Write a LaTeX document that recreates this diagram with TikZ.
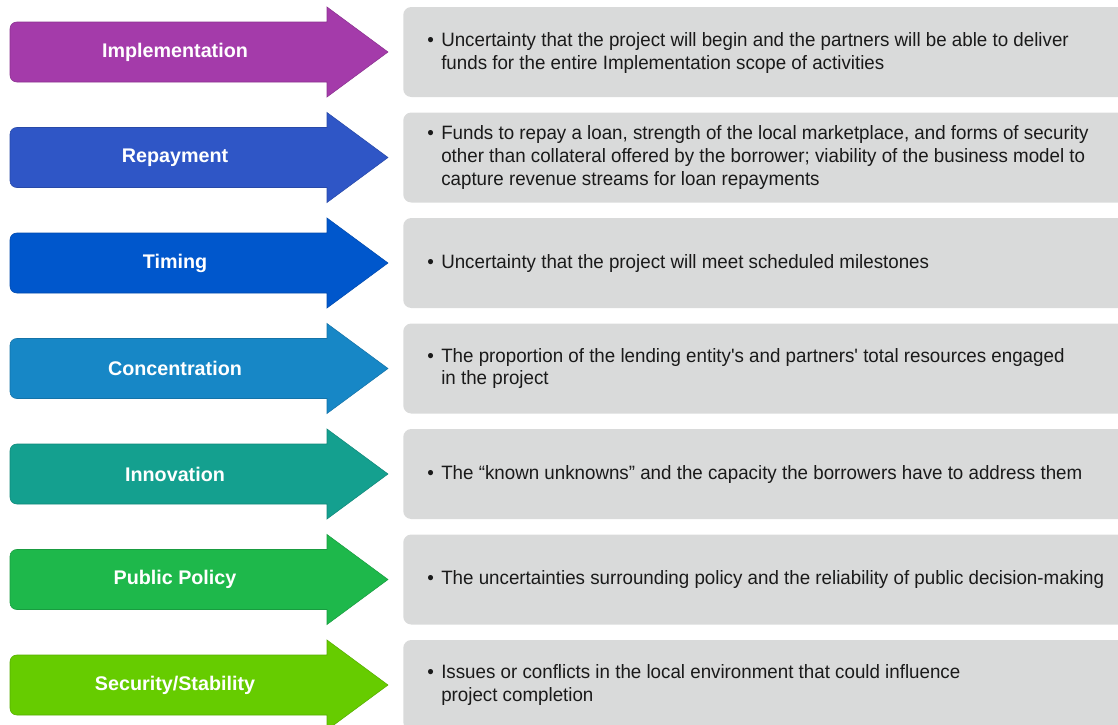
\documentclass[tikz,border=0pt]{standalone}
\usepackage{fontspec}
\setmainfont{Liberation Sans}
\newfontfamily\bodyfont[FakeStretch=0.97]{Liberation Sans}
\definecolor{cImpl}{HTML}{A43BAA}
\definecolor{cRepay}{HTML}{2F56C6}
\definecolor{cTime}{HTML}{0057CC}
\definecolor{cConc}{HTML}{1787C6}
\definecolor{cInno}{HTML}{14A08F}
\definecolor{cPol}{HTML}{1EB84B}
\definecolor{cSec}{HTML}{66CC00}
\definecolor{boxgray}{HTML}{D9DADA}
\definecolor{txtdark}{HTML}{1A1A1A}
\tikzset{
  arrowbody/.style={fill=#1, draw=#1!85!black, line width=0.4pt},
  graybox/.style={fill=boxgray, draw=none, rounded corners=6pt, minimum width=549pt, minimum height=67.5pt, anchor=west, inner sep=0pt},
  lab/.style={text=white, font=\fontsize{14.8pt}{17pt}\selectfont\bfseries, inner sep=0pt},
  txt/.style={text=txtdark, font=\bodyfont\fontsize{14.5pt}{17pt}\selectfont, align=left, anchor=west, inner sep=0pt}
}
\newcommand{\bul}{\makebox[10.5pt][l]{\textbullet}}
\newcommand{\ind}{\hspace*{10.5pt}}
\newcommand{\rowarrow}[4]{%
  \draw[arrowbody=#2] (327,#1-30) -- (327,#1-45) -- (388,#1) -- (327,#1+45) -- (327,#1+30)
     [rounded corners=5pt] -- (10,#1+30) -- (10,#1-30) -- (60,#1-30) [sharp corners] -- (327,#1-30) -- cycle;
  \node[lab] (l#4) at (175,#1) {#3};
  \node[graybox] (b#4) at (403,#1) {};
}
\begin{document}
\begin{tikzpicture}[x=0.75pt, y=-0.75pt]
\useasboundingbox (0,0) rectangle (1118,725);
\begin{scope}
\clip (0,0) rectangle (1118,725);
\rowarrow{52}{cImpl}{Implementation}{1}
\rowarrow{157.5}{cRepay}{Repayment}{2}
\rowarrow{263}{cTime}{Timing}{3}
\rowarrow{368.5}{cConc}{Concentration}{4}
\rowarrow{474}{cInno}{Innovation}{5}
\rowarrow{579.5}{cPol}{Public Policy}{6}
\rowarrow{685}{cSec}{Security/Stability}{7}
\end{scope}
\node[txt] (t1) at (427,53) {\bul Uncertainty that the project will begin and the partners will be able to deliver\\ \ind funds for the entire Implementation scope of activities};
\node[txt] (t2) at (427,157.5) {\bul Funds to repay a loan, strength of the local marketplace, and forms of security\\ \ind other than collateral offered by the borrower; viability of the business model to\\ \ind capture revenue streams for loan repayments};
\node[txt] (t3) at (427,263) {\bul Uncertainty that the project will meet scheduled milestones};
\node[txt] (t4) at (427,368.5) {\bul The proportion of the lending entity's and partners' total resources engaged\\ \ind in the project};
\node[txt] (t5) at (427,474) {\bul The “known unknowns” and the capacity the borrowers have to address them};
\node[txt] (t6) at (427,579.5) {\bul The uncertainties surrounding policy and the reliability of public decision-making};
\node[txt] (t7) at (427,685) {\bul Issues or conflicts in the local environment that could influence\\ \ind project completion};
\end{tikzpicture}
\end{document}
